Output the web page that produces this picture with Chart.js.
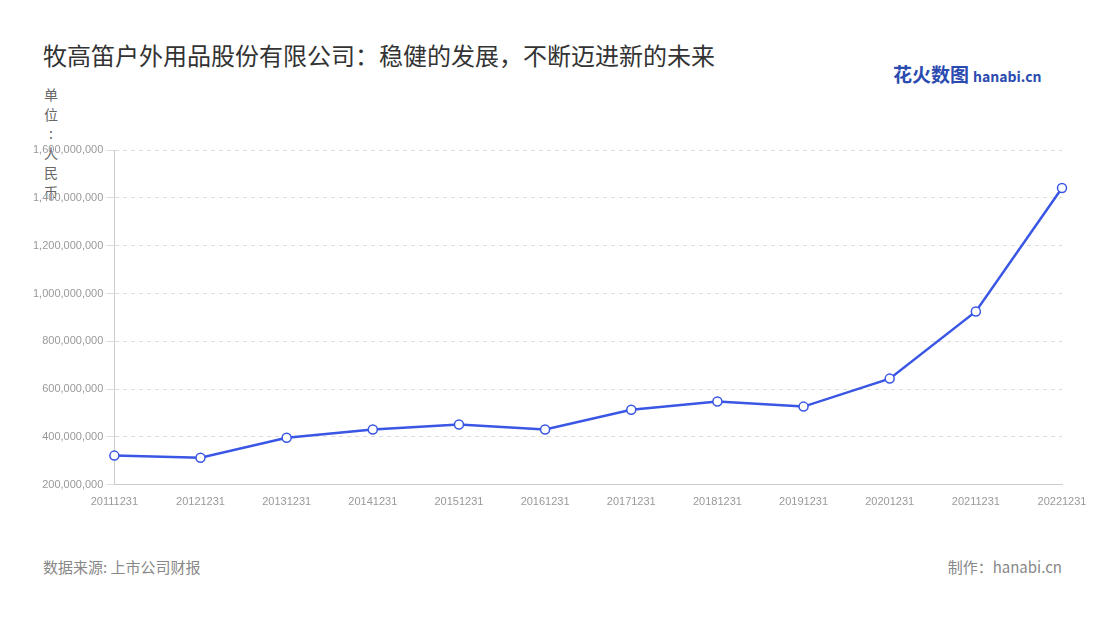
<!DOCTYPE html>
<html><head><meta charset="utf-8">
<script src="https://cdn.jsdelivr.net/npm/chart.js@4"></script>
<style>
body{margin:0;width:1100px;height:620px;background:#fff;font-family:"Noto Sans CJK SC","Noto Sans",sans-serif;position:relative;overflow:hidden}
#title{position:absolute;left:43px;top:37px;font-size:24px;color:#333}
#unit{position:absolute;left:43px;top:85px;font-size:14px;color:#666;width:16px;line-height:19.5px}
#unit div{text-align:center}
#src{position:absolute;left:43px;top:556px;font-size:15px;color:#888}
#made{position:absolute;right:38px;top:556px;font-size:15px;color:#888}
#logo{position:absolute;left:893px;top:60px;font-size:19px;font-weight:bold;color:#2b4bb0}
#logo span{font-size:14px;margin-left:4px}
#wrap{position:absolute;left:0;top:140px;width:1100px;height:382px}
</style></head><body>
<div id="title">牧高笛户外用品股份有限公司：稳健的发展，不断迈进新的未来</div>
<div id="logo">花火数图<span>hanabi.cn</span></div>
<div id="unit"><div>单</div><div>位</div><div>:</div><div>人</div><div>民</div><div>币</div></div>
<div id="wrap"><canvas id="c"></canvas></div>
<div id="src">数据来源: 上市公司财报</div>
<div id="made">制作：hanabi.cn</div>
<script>
const categories=["20111231","20121231","20131231","20141231","20151231","20161231","20171231","20181231","20191231","20201231","20211231","20221231"];
const values=[322000000,313000000,397000000,431000000,452000000,431000000,514000000,548000000,527000000,644000000,925000000,1441000000];
new Chart(document.getElementById('c'),{type:'line',
data:{labels:categories,datasets:[{data:values,borderColor:'#3a56e4',borderWidth:2.5,pointBackgroundColor:'#fff',pointBorderColor:'#3a56e4',pointBorderWidth:1.5,pointRadius:4.5,tension:0}]},
options:{responsive:true,maintainAspectRatio:false,animation:false,
layout:{padding:{left:30,right:38,top:10,bottom:10}},
plugins:{legend:{display:false},tooltip:{enabled:false}},
scales:{x:{offset:false,grid:{display:false},border:{color:'#ccc'},ticks:{color:'#999',font:{size:11},maxRotation:0,autoSkip:false}},
y:{min:200000000,max:1600000000,ticks:{stepSize:200000000,color:'#999',font:{size:11},callback:v=>v.toLocaleString('en-US')},grid:{color:'#ddd'},border:{color:'#ccc',dash:[4,4]}}}}});
</script></body></html>
